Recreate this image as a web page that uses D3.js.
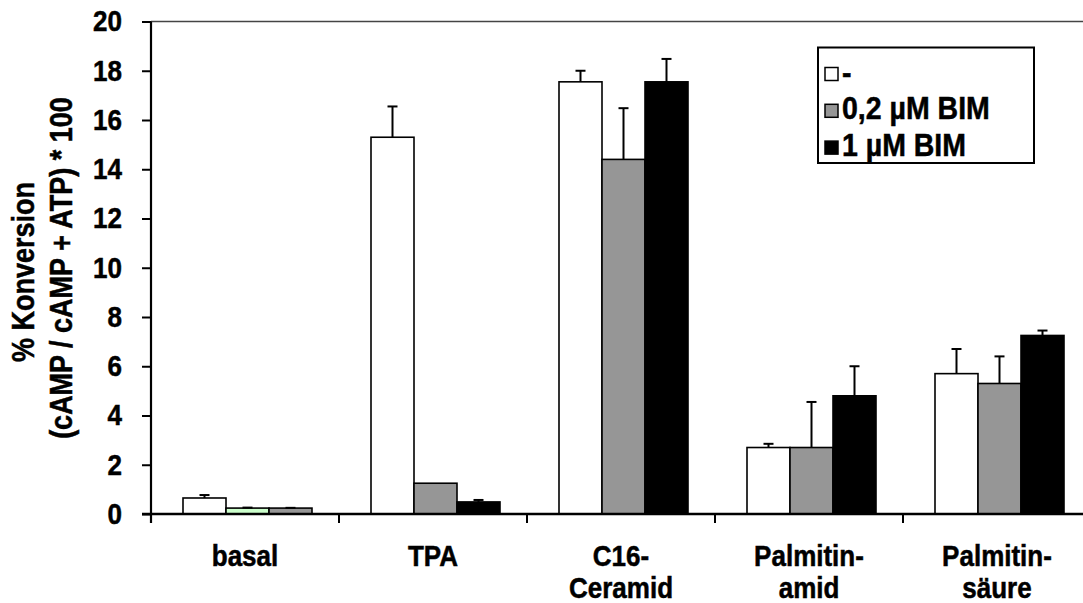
<!DOCTYPE html>
<html>
<head>
<meta charset="utf-8">
<script src="https://cdn.jsdelivr.net/npm/d3@7"></script>
<style>
  html, body { margin: 0; padding: 0; background: #fff; }
  svg { display: block; }
  text { font-family: "Liberation Sans", Arial, sans-serif; font-weight: bold; fill: #000;
         stroke: #000; stroke-width: 0.45px; }
</style>
</head>
<body>
<svg id="chart" width="1083" height="603"></svg>
<script>
// Treatments along the x axis (second line of a label after "\n")
const categories = ["basal", "TPA", "C16-\nCeramid", "Palmitin-\namid", "Palmitin-\nsäure"];
// BIM pre-treatment series
const seriesNames = ["-", "0,2 µM BIM", "1 µM BIM"];
// Mean conversion in % per treatment, one array per series
const valuesControl = [0.65, 15.3, 17.55, 2.7, 5.7];
const valuesBim02   = [0.24, 1.25, 14.4, 2.7, 5.3];
const valuesBim1    = [0.24, 0.49, 17.55, 4.8, 7.25];
// Upper error (SD) per treatment
const errorsControl = [0.12, 1.25, 0.45, 0.15, 1.0];
const errorsBim02   = [0.02, 0.0, 2.08, 1.85, 1.1];
const errorsBim1    = [0.01, 0.08, 0.93, 1.2, 0.2];
const yTicks = [0, 2, 4, 6, 8, 10, 12, 14, 16, 18, 20];

const values = [valuesControl, valuesBim02, valuesBim1];
const errors = [errorsControl, errorsBim02, errorsBim1];

// styling
const seriesFill = ["#ffffff", "#969696", "#000000"];
const groupFillOverride = { "basal": ["#ffffff", "#ccffcc", "#969696"] };
const W = 1083, H = 603;
const plotLeft = 151, plotBottom = 514, plotTop = 21.5;
const band = 188;
const fontSize = 26;
const stretch = 1.13;   // taller glyphs than the plain font gives

const svg = d3.select("#chart");

const x = d3.scaleBand()
  .domain(categories)
  .range([plotLeft, plotLeft + band * categories.length])
  .paddingInner(0).paddingOuter(0);

const xSub = d3.scaleBand()
  .domain(d3.range(seriesNames.length))
  .range([32, 161])
  .padding(0);

const y = d3.scaleLinear().domain([0, 20]).range([plotBottom, plotTop]);

// places a text at (px, py) baseline with stretched glyphs
function label(parent, px, py, str, size, anchor, rot) {
  return parent.append("text")
    .attr("transform", `translate(${px},${py})${rot ? ` rotate(${rot})` : ""} scale(1,${stretch})`)
    .attr("text-anchor", anchor || "middle")
    .attr("font-size", size)
    .text(str);
}

// upper frame line at the top of the value range
svg.append("line")
  .attr("x1", plotLeft).attr("x2", W)
  .attr("y1", y(20)).attr("y2", y(20))
  .attr("stroke", "#444").attr("stroke-width", 1.5);

// bars
const rows = [];
categories.forEach((c, ci) => {
  seriesNames.forEach((s, si) => {
    rows.push({ c, si, v: values[si][ci], e: errors[si][ci] });
  });
});

const g = svg.append("g");
g.selectAll("rect.bar").data(rows).join("rect")
  .attr("class", "bar")
  .attr("x", d => x(d.c) + xSub(d.si))
  .attr("width", xSub.bandwidth())
  .attr("y", d => y(d.v))
  .attr("height", d => y(0) - y(d.v))
  .attr("fill", d => (groupFillOverride[d.c] || seriesFill)[d.si])
  .attr("stroke", "#000")
  .attr("stroke-width", 1.6);

// error bars (upper only)
const cx = d => x(d.c) + xSub(d.si) + xSub.bandwidth() / 2;
const eb = g.selectAll("g.err").data(rows.filter(d => d.e > 0)).join("g").attr("class", "err");
eb.append("line")
  .attr("x1", cx).attr("x2", cx)
  .attr("y1", d => y(d.v))
  .attr("y2", d => y(d.v + d.e))
  .attr("stroke", "#000").attr("stroke-width", 2);
eb.append("line")
  .attr("x1", d => cx(d) - 5)
  .attr("x2", d => cx(d) + 5)
  .attr("y1", d => y(d.v + d.e))
  .attr("y2", d => y(d.v + d.e))
  .attr("stroke", "#000").attr("stroke-width", 2);

// y axis
const yAxis = d3.axisLeft(y)
  .tickValues(yTicks)
  .tickFormat(d3.format("d"))
  .tickSizeInner(9)
  .tickSizeOuter(0)
  .tickPadding(20);
const ya = svg.append("g").attr("transform", `translate(${plotLeft},0)`).call(yAxis);
ya.select(".domain").remove();
ya.selectAll(".tick line").attr("stroke", "#000").attr("stroke-width", 2);
ya.selectAll(".tick text")
  .attr("font-size", fontSize)
  .attr("font-family", "Liberation Sans, Arial, sans-serif")
  .attr("font-weight", "bold")
  .attr("fill", "#000")
  .attr("transform", `scale(1,${stretch})`);
svg.append("line")
  .attr("x1", plotLeft).attr("x2", plotLeft)
  .attr("y1", y(20)).attr("y2", plotBottom + 9)
  .attr("stroke", "#000").attr("stroke-width", 2.2);

// x axis line and ticks at group boundaries
svg.append("line")
  .attr("x1", plotLeft - 9).attr("x2", W)
  .attr("y1", plotBottom).attr("y2", plotBottom)
  .attr("stroke", "#000").attr("stroke-width", 2.6);
svg.selectAll("line.xtick").data(categories.slice(1)).join("line")
  .attr("class", "xtick")
  .attr("x1", d => x(d)).attr("x2", d => x(d))
  .attr("y1", plotBottom).attr("y2", plotBottom + 9)
  .attr("stroke", "#000").attr("stroke-width", 2);

// category labels
const catG = svg.append("g");
categories.forEach(c => {
  c.split("\n").forEach((line, i) => {
    label(catG, x(c) + x.bandwidth() / 2, 566 + i * 32, line, fontSize, "middle");
  });
});

// y axis title
label(svg, 34, 272, "% Konversion", 27, "middle", -90);
label(svg, 72, 268, "(cAMP / cAMP + ATP) * 100", 27, "middle", -90);

// legend
const legend = svg.append("g");
legend.append("rect")
  .attr("x", 818).attr("y", 47.5)
  .attr("width", 216).attr("height", 115.5)
  .attr("fill", "#fff").attr("stroke", "#000").attr("stroke-width", 2);
seriesNames.forEach((name, i) => {
  const cy = 74 + i * 36.8;
  legend.append("rect")
    .attr("x", 825).attr("y", cy - 6.5)
    .attr("width", 13).attr("height", 13)
    .attr("fill", seriesFill[i])
    .attr("stroke", "#000").attr("stroke-width", 1.5);
  label(legend, 842, cy + 8.5, name, 28.5, "start");
});
</script>
</body>
</html>
